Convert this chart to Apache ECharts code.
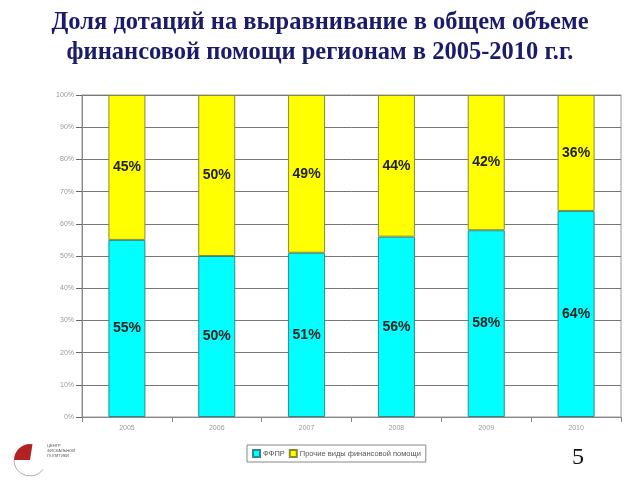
<!DOCTYPE html>
<html><head><meta charset="utf-8">
<script src="https://cdn.jsdelivr.net/npm/echarts@6/dist/echarts.min.js"></script>
<style>html,body{margin:0;padding:0;background:#fff}#c{width:640px;height:480px}</style>
</head><body><div id="c"></div>
<script>
var years = ['2005','2006','2007','2008','2009','2010'];
var ffpr = [55, 50, 51, 56, 58, 64];
var other = [45, 50, 49, 44, 42, 36];
var seriesNames = ['ФФПР', 'Прочие виды финансовой помощи'];
var titleLines = ['Доля дотаций на выравнивание в общем объеме', 'финансовой помощи регионам в 2005-2010 г.г.'];

var chart = echarts.init(document.getElementById('c'), null, {renderer:'canvas'});
var lbl = {show:true, position:'inside', formatter:'{c}%', color:'#222', fontFamily:'Liberation Sans, Arial', fontWeight:'bold', fontSize:14};
chart.setOption({
  animation:false,
  title:{text:titleLines.join('\n'), left:'center', top:3,
    textStyle:{fontFamily:'Liberation Serif, Times New Roman', fontWeight:'bold', fontSize:24.5, color:'#1b1b6b', lineHeight:30}},
  grid:{left:82, right:19, top:95, bottom:63, show:true, borderColor:'#999', borderWidth:1},
  legend:{bottom:18, left:247, itemWidth:7, itemHeight:7, itemGap:4,
    borderColor:'#888', borderWidth:1, padding:[4,5], icon:'rect',
    textStyle:{fontFamily:'Liberation Sans, Arial', fontSize:7.5, color:'#555', padding:[0,0,0,-2]},
    data:seriesNames},
  xAxis:{type:'category', data:years,
    axisLine:{lineStyle:{color:'#888'}}, axisTick:{show:true, lineStyle:{color:'#888'}},
    axisLabel:{color:'#999', fontSize:7, fontFamily:'Liberation Sans, Arial', margin:8}},
  yAxis:{type:'value', min:0, max:100, interval:10,
    axisLine:{show:true, lineStyle:{color:'#888'}}, axisTick:{show:true, length:6, lineStyle:{color:'#666'}},
    axisLabel:{formatter:'{value}%', color:'#999', fontSize:7, fontFamily:'Liberation Sans, Arial', margin:8},
    splitLine:{lineStyle:{color:'#777', width:1}}},
  series:[
    {name:seriesNames[0], type:'bar', stack:'s', barWidth:37, data:ffpr,
      itemStyle:{color:'#00ffff', borderColor:'#2d8a8a', borderWidth:1}, label:lbl},
    {name:seriesNames[1], type:'bar', stack:'s', barWidth:37, data:other,
      itemStyle:{color:'#ffff00', borderColor:'#8a8a30', borderWidth:1}, label:lbl}
  ],
  graphic:[
    {type:'text', left:572, top:446, style:{text:'5', font:'24px "Liberation Serif", serif', fill:'#111'}},
    {type:'sector', shape:{cx:30, cy:460, r0:0, r:16, startAngle:Math.PI*1.0, endAngle:Math.PI*1.55}, style:{fill:'#b22222'}},
    {type:'arc', shape:{cx:30, cy:460, r:16, startAngle:Math.PI*0.2, endAngle:Math.PI*1.0}, style:{stroke:'#aaa', fill:null, lineWidth:1}},
    {type:'text', left:47, top:443, style:{text:'ЦЕНТР\nФИСКАЛЬНОЙ\nПОЛИТИКИ', font:'4px sans-serif', fill:'#555', lineHeight:5}}
  ]
});
</script></body></html>
